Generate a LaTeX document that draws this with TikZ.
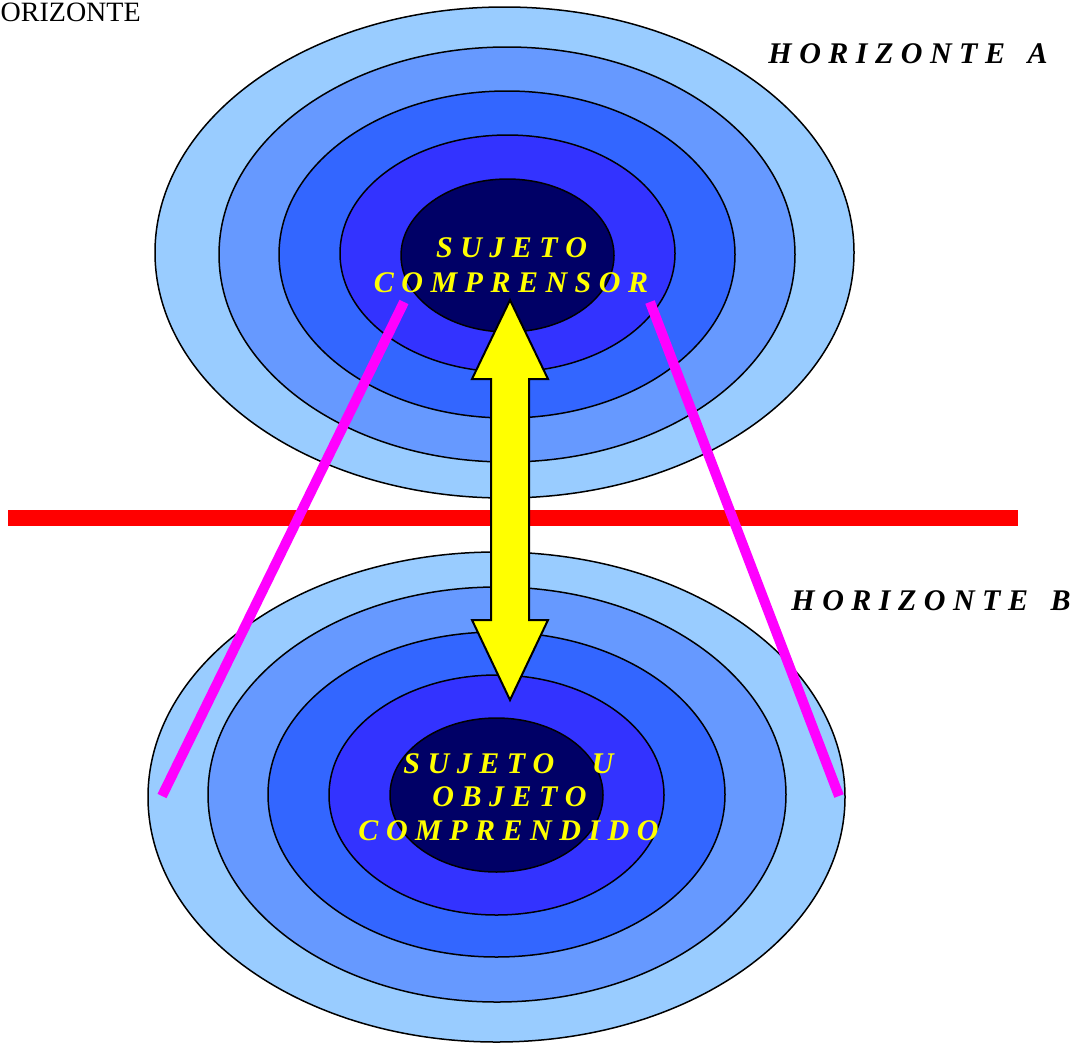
\documentclass[tikz,border=0pt]{standalone}
\usepackage{fontspec}
\setmainfont{Liberation Serif}
\usetikzlibrary{shapes.geometric}
\definecolor{ringA}{HTML}{99CCFF}
\definecolor{ringB}{HTML}{6699FF}
\definecolor{ringC}{HTML}{3366FF}
\definecolor{ringD}{HTML}{3333FF}
\definecolor{ringE}{HTML}{000066}
\definecolor{magen}{HTML}{FF00FF}
\definecolor{redl}{HTML}{FF0000}
\definecolor{yel}{HTML}{FFFF00}
\newcommand\lsp{\kern0.25em}
\tikzset{
  ring/.style={ellipse, draw=black, line width=1.5pt, inner sep=0pt, minimum width=#1},
  lbl/.style={anchor=base, inner sep=0pt, font=\fontsize{30}{36}\selectfont\bfseries\itshape},
  inlbl/.style={lbl, text=yel},
  pinkline/.style={draw=magen, line width=10pt},
}
\begin{document}
\begin{tikzpicture}[x=1pt,y=-1pt]
\useasboundingbox (0,0) rectangle (1078,1044);
% top ellipses
\node[ring=699pt, minimum height=491pt, fill=ringA] (ta) at (504.5,252.5) {};
\node[ring=576pt, minimum height=415pt, fill=ringB] (tb) at (507,254.5) {};
\node[ring=456pt, minimum height=327pt, fill=ringC] (tc) at (507,254.5) {};
\node[ring=335pt, minimum height=237pt, fill=ringD] (td) at (507.5,253.5) {};
\node[ring=213pt, minimum height=153pt, fill=ringE] (te) at (507.5,255.5) {};
% bottom ellipses
\node[ring=697pt, minimum height=490pt, fill=ringA] (ba) at (496.5,797) {};
\node[ring=578pt, minimum height=415pt, fill=ringB] (bb) at (497,794.5) {};
\node[ring=457pt, minimum height=325pt, fill=ringC] (bc) at (496.5,794.5) {};
\node[ring=335pt, minimum height=240pt, fill=ringD] (bd) at (496.5,795) {};
\node[ring=213pt, minimum height=154pt, fill=ringE] (be) at (496.5,795) {};
% red horizon line
\coordinate (r1) at (8,518);
\coordinate (r2) at (1018,518);
\draw[draw=redl, line width=16pt] (r1) -- (r2);
% magenta lines
\coordinate (ml1) at (404,302);
\coordinate (ml2) at (162,796);
\coordinate (mr1) at (650,302);
\coordinate (mr2) at (839,796);
\draw[pinkline] (ml1) -- (ml2);
\draw[pinkline] (mr1) -- (mr2);
% yellow double arrow
\draw[fill=yel, draw=black, line width=2pt, line join=miter]
  (510,300) -- (548,379) -- (529,379) -- (529,620) -- (548,620) -- (510,700)
  -- (472,620) -- (491,620) -- (491,379) -- (472,379) -- cycle;
% labels
\node[anchor=base west, inner sep=0pt, font=\fontsize{28}{34}\selectfont] (hz) at (0.5,21) {ORIZONTE};
\node[lbl] (ha) at (908,63) {H\lsp O\lsp R\lsp I\lsp Z\lsp O\lsp N\lsp T\lsp E\lsp\lsp\lsp A};
\node[lbl] (hb) at (931,610) {H\lsp O\lsp R\lsp I\lsp Z\lsp O\lsp N\lsp T\lsp E\lsp\lsp\lsp B};
\node[inlbl] (s1) at (511.5,257) {S\lsp U\lsp J\lsp E\lsp T\lsp O};
\node[inlbl] (s2) at (511,292) {C\lsp O\lsp M\lsp P\lsp R\lsp E\lsp N\lsp S\lsp O\lsp R};
\node[inlbl] (o1) at (508.5,773) {S\lsp U\lsp J\lsp E\lsp T\lsp O\lsp\lsp\lsp\lsp\lsp U};
\node[inlbl] (o2) at (509.5,806) {O\lsp B\lsp J\lsp E\lsp T\lsp O};
\node[inlbl] (o3) at (508.5,840) {C\lsp O\lsp M\lsp P\lsp R\lsp E\lsp N\lsp D\lsp I\lsp D\lsp O};
\end{tikzpicture}
\end{document}
